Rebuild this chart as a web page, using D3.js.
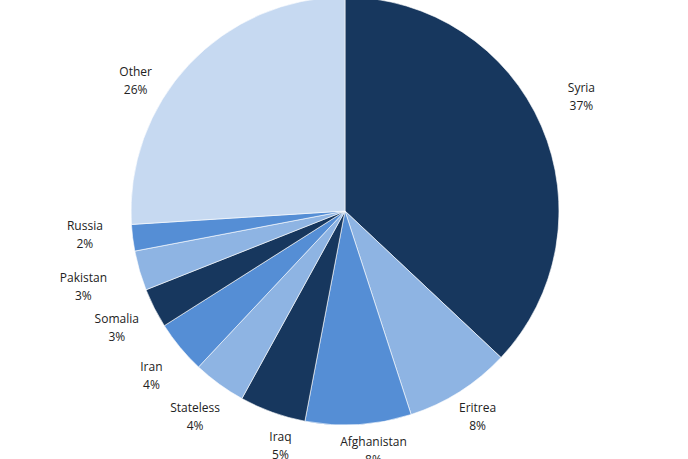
<!DOCTYPE html>
<html><head><meta charset="utf-8">
<script src="https://cdn.jsdelivr.net/npm/d3@7"></script>
<style>
html,body{margin:0;padding:0;background:#fff;overflow:hidden;}
svg{display:block;}
text{font-family:"Open Sans","Noto Sans",sans-serif;font-size:12px;fill:#222;}
</style></head>
<body>
<script>
// Data
const categories = ["Syria","Eritrea","Afghanistan","Iraq","Stateless","Iran","Somalia","Pakistan","Russia","Other"];
const values = [37, 8, 8, 5, 4, 4, 3, 3, 2, 26];
const valueLabels = ["37%","8%","8%","5%","4%","4%","3%","3%","2%","26%"];

// Styling / layout (not data)
const colors = ["#17375e","#8eb4e3","#558ed5","#17375e","#8eb4e3","#558ed5","#17375e","#8eb4e3","#558ed5","#c6d9f1"];
const labelNudge = [[11,-16],[-2,-6],[13,-6],[19,3],[0,0],[-4,8],[-2,2],[-18,5],[-16,-7],[-27,41]];

const W = 688, H = 459, cx = 345, cy = 211, R = 214;
const svg = d3.select("body").append("svg").attr("width", W).attr("height", H);
const g = svg.append("g").attr("transform", `translate(${cx},${cy})`);

const pie = d3.pie().sort(null).value(d => d.v);
const data = categories.map((c, i) => ({c, v: values[i], l: valueLabels[i], i}));
const arcs = pie(data);
const arc = d3.arc().innerRadius(0).outerRadius(R);

g.selectAll("path").data(arcs).enter().append("path")
  .attr("d", arc)
  .attr("fill", d => colors[d.data.i])
  .attr("stroke", "#fff").attr("stroke-width", 0.6);

// measure text for label placement outside the slice end
const gap = 12, lineH = 18;
const lbl = g.selectAll("g.lbl").data(arcs).enter().append("g").attr("class","lbl");
lbl.each(function(d){
  const sel = d3.select(this);
  const t1 = sel.append("text").attr("text-anchor","middle").text(d.data.c);
  const t2 = sel.append("text").attr("text-anchor","middle").text(d.data.l);
  const w = Math.max(t1.node().getComputedTextLength(), t2.node().getComputedTextLength())/2;
  const h = lineH;
  const th = (d.startAngle + d.endAngle)/2;
  const s = Math.sin(th), c = Math.cos(th);
  const dist = R + gap + w*Math.abs(s) + h*Math.abs(c);
  const n = labelNudge[d.data.i];
  const x = dist*s + n[0], y = -dist*c + n[1];
  t1.attr("x", x).attr("y", y - lineH/2 + 4);
  t2.attr("x", x).attr("y", y + lineH/2 + 4);
});
</script>
</body></html>
